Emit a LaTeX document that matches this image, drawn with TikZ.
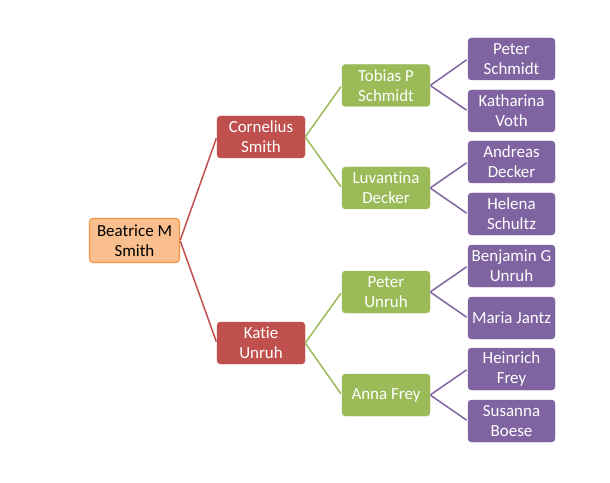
\documentclass[tikz,border=0pt]{standalone}
\usepackage{fontspec}
\setmainfont[Ligatures=NoCommon]{Carlito}
\definecolor{orfill}{HTML}{FABF8F}
\definecolor{ordraw}{HTML}{F79646}
\definecolor{redc}{HTML}{C0504D}
\definecolor{greenc}{HTML}{9BBB59}
\definecolor{purplec}{HTML}{8064A2}
\begin{document}
\begin{tikzpicture}[x=1bp,y=-1bp,
  box/.style={rectangle, rounded corners=3.5bp, align=center, inner sep=1bp,
    minimum width=88bp, minimum height=42bp, text=white,
    font=\fontsize{17}{20}\selectfont},
  rootbox/.style={box, fill=orfill, draw=ordraw, line width=1.2bp, text=black,
    minimum width=90bp, minimum height=44bp},
  redbox/.style={box, fill=redc, draw=redc},
  greenbox/.style={box, fill=greenc, draw=greenc},
  purplebox/.style={box, fill=purplec, draw=purplec, minimum width=87bp},
  link/.style={line width=1.5bp, shorten >=1.5bp, shorten <=0.5bp}
]
\useasboundingbox (0,0) rectangle (610,483);
\node[rootbox] (bea) at (134.5,240.5) {Beatrice M\\Smith};
\node[redbox] (cor) at (261,137) {Cornelius\\Smith};
\node[redbox] (kat) at (261,343) {Katie\\Unruh};
\node[greenbox] (tob) at (386,85.5) {Tobias P\\Schmidt};
\node[greenbox] (luv) at (386,188) {Luvantina\\Decker};
\node[greenbox] (pun) at (386,292) {Peter\\Unruh};
\node[greenbox] (ann) at (386,395) {Anna Frey};
\node[purplebox] (psc) at (511.5,59) {Peter\\Schmidt};
\node[purplebox] (kvo) at (511.5,111) {Katharina\\Voth};
\node[purplebox] (ade) at (511.5,162) {Andreas\\Decker};
\node[purplebox] (hsc) at (511.5,214) {Helena\\Schultz};
\node[purplebox] (ben) at (511.5,266) {Benjamin G\\Unruh};
\node[purplebox] (mja) at (511.5,318) {Maria Jantz};
\node[purplebox] (hfr) at (511.5,369) {Heinrich\\Frey};
\node[purplebox] (sbo) at (511.5,421) {Susanna\\Boese};
\draw[link, redc] (bea.east) -- (cor.west);
\draw[link, redc] (bea.east) -- (kat.west);
\draw[link, greenc] (cor.east) -- (tob.west);
\draw[link, greenc] (cor.east) -- (luv.west);
\draw[link, greenc] (kat.east) -- (pun.west);
\draw[link, greenc] (kat.east) -- (ann.west);
\draw[link, purplec] (tob.east) -- (psc.west);
\draw[link, purplec] (tob.east) -- (kvo.west);
\draw[link, purplec] (luv.east) -- (ade.west);
\draw[link, purplec] (luv.east) -- (hsc.west);
\draw[link, purplec] (pun.east) -- (ben.west);
\draw[link, purplec] (pun.east) -- (mja.west);
\draw[link, purplec] (ann.east) -- (hfr.west);
\draw[link, purplec] (ann.east) -- (sbo.west);
\end{tikzpicture}
\end{document}
